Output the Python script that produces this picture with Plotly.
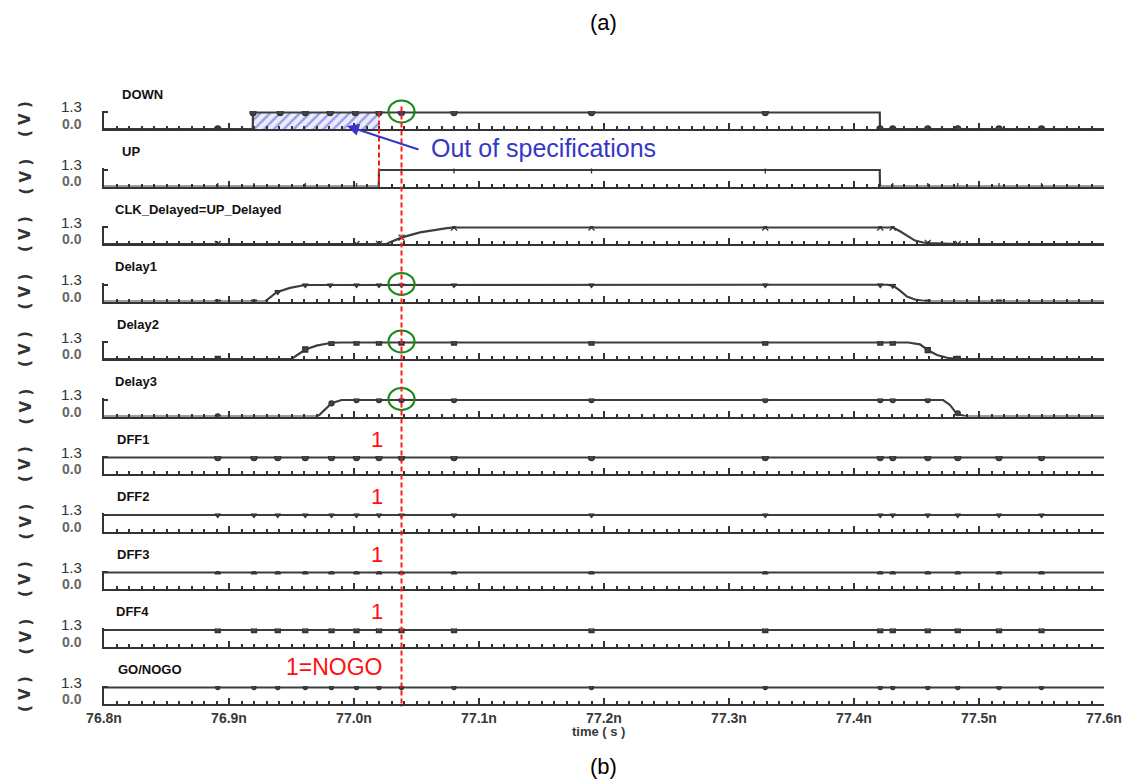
import numpy as np
import plotly.graph_objects as go

# ---------------- data (time in ns, voltage in V) ----------------
X_MIN, X_MAX = 76.8, 77.6
V_HIGH = 1.3
SIGNAL_NAMES = ["DOWN", "UP", "CLK_Delayed=UP_Delayed", "Delay1", "Delay2", "Delay3",
                "DFF1", "DFF2", "DFF3", "DFF4", "GO/NOGO"]

DOWN_RISE = 76.9192   # DOWN rising edge
UP_RISE = 77.0200     # UP rising edge
SAMPLE_T = 77.038     # sampling instant (red dashed line / green circles)

down_t = [76.80, 76.9190, 76.9192, 77.4206, 77.4208, 77.60]
down_v = [0.0, 0.0, 1.3, 1.3, 0.0, 0.0]
down_mk = [76.891, 76.9192, 76.941, 76.961, 76.981, 77.001, 77.020, 77.038, 77.080, 77.190,
           77.329, 77.4208, 77.431, 77.459, 77.483, 77.516, 77.550]

up_t = [76.80, 77.0198, 77.0200, 77.4206, 77.4208, 77.60]
up_v = [0.0, 0.0, 1.3, 1.3, 0.0, 0.0]
up_mk = [76.891, 76.920, 76.961, 77.002, 77.020, 77.038, 77.080, 77.190, 77.329,
         77.4208, 77.431, 77.459, 77.483, 77.516, 77.550]

clk_t = [76.80, 77.026, 77.0288, 77.0384, 77.0528, 77.0632, 77.0744, 77.080,
         77.4312, 77.4368, 77.4424, 77.4488, 77.4552, 77.4608, 77.4824, 77.60]
clk_v = [0.0, 0.0, 0.13, 0.52, 0.91, 1.10, 1.25, 1.3,
         1.3, 1.00, 0.69, 0.27, 0.12, 0.07, 0.0, 0.0]
clk_mk = [76.891, 77.002, 77.020, 77.038, 77.080, 77.190, 77.329, 77.421, 77.431, 77.459, 77.483]

d1_t = [76.80, 76.9288, 76.9381, 76.9488, 76.9608, 77.4208, 77.4264, 77.4312,
        77.4368, 77.4424, 77.4488, 77.4592, 77.60]
d1_v = [0.0, 0.0, 0.73, 1.07, 1.3, 1.3, 1.33, 1.25, 0.86, 0.39, 0.16, 0.0, 0.0]
d1_mk = [76.891, 76.920, 76.939, 76.961, 76.981, 77.002, 77.020, 77.038, 77.080, 77.190,
         77.329, 77.421, 77.431, 77.459, 77.516]

d2_t = [76.80, 76.950, 76.961, 76.970, 76.982, 76.990, 77.4432, 77.4528, 77.4592,
        77.4664, 77.4744, 77.4824, 77.60]
d2_v = [0.0, 0.0, 0.75, 1.05, 1.28, 1.3, 1.3, 1.15, 0.69, 0.31, 0.10, 0.0, 0.0]
d2_mk = [76.891, 76.961, 76.982, 77.002, 77.020, 77.038, 77.080, 77.190, 77.329,
         77.421, 77.431, 77.459, 77.483]

d3_t = [76.80, 76.971, 76.982, 76.990, 77.4712, 77.4768, 77.4808, 77.4848, 77.4904, 77.60]
d3_v = [0.0, 0.0, 1.04, 1.3, 1.3, 0.91, 0.39, 0.13, 0.0, 0.0]
d3_mk = [76.891, 76.982, 77.002, 77.020, 77.038, 77.080, 77.190, 77.329,
         77.421, 77.431, 77.459, 77.483]

dff_t = [76.80, 77.60]
dff_v = [1.3, 1.3]
dff_mk = [76.891, 76.920, 76.939, 76.961, 76.982, 77.002, 77.020, 77.038, 77.080, 77.190,
          77.329, 77.421, 77.431, 77.459, 77.483, 77.516, 77.550]

WAVES = [(down_t, down_v, down_mk), (up_t, up_v, up_mk), (clk_t, clk_v, clk_mk),
         (d1_t, d1_v, d1_mk), (d2_t, d2_v, d2_mk), (d3_t, d3_v, d3_mk),
         (dff_t, dff_v, dff_mk), (dff_t, dff_v, dff_mk), (dff_t, dff_v, dff_mk),
         (dff_t, dff_v, dff_mk), (dff_t, dff_v, dff_mk)]

# ---------------- styling / geometry ----------------
W, H = 1133, 784
PAGE_OFF = 8            # page body offset of the plot div
PX_X0, PX_X1 = 104, 1104
BASE0, STEP = 129, 57.5
HIGH_PX = 16.5
PX_PER_V = HIGH_PX / V_HIGH
Y_TOP = 1.42
TITLE_X = [120, 120, 113, 113, 115, 113, 115, 115, 115, 114, 116]
SYMBOLS = ["circle", "line-ns", "x-thin", "triangle-down", "square", "circle",
           "circle", "triangle-down", "triangle-up", "square", "circle"]
SIZES = [6, 5, 6, 5, 5, 5, 6, 5, 5, 5, 4]
LINE_C = "#3d3d3d"
AX_C = "#333333"
FONT = "Liberation Sans, Arial, sans-serif"


def fx(p):
    return (p - PAGE_OFF) / W


def fy(p):
    return 1 - (p - PAGE_OFF) / H


def t2px(t):
    return PX_X0 + (t - X_MIN) / (X_MAX - X_MIN) * (PX_X1 - PX_X0)


fig = go.Figure()
annotations = []
shapes = []
layout_axes = {}

for i, (name, (t, v, mk)) in enumerate(zip(SIGNAL_NAMES, WAVES)):
    n = "" if i == 0 else str(i + 1)
    base = BASE0 + STEP * i
    top = base - Y_TOP * PX_PER_V
    layout_axes["xaxis" + n] = dict(
        domain=[fx(PX_X0), fx(PX_X1)], range=[X_MIN, X_MAX], anchor="y" + n,
        automargin=False,
        showline=True, linecolor=AX_C, linewidth=2, mirror=False,
        ticks="inside", ticklen=6, tickwidth=2, tickcolor=AX_C,
        tick0=76.8, dtick=0.1, tickformat=".1f", ticksuffix="n",
        showticklabels=(i == len(SIGNAL_NAMES) - 1),
        tickfont=dict(family=FONT, size=14, color="#3a3a3a", weight="bold"),
        showgrid=False, zeroline=False,
        minor=dict(ticks="inside", ticklen=3, tickwidth=1.5, tickcolor=AX_C,
                   tick0=76.8, dtick=0.01, showgrid=False),
        matches=None if i == 0 else "x",
    )
    layout_axes["yaxis" + n] = dict(
        domain=[fy(base), fy(top)], range=[0, Y_TOP], anchor="x" + n,
        automargin=False,
        showline=True, linecolor=AX_C, linewidth=2,
        ticks="inside", tickvals=[0, V_HIGH], ticklen=4, tickwidth=2, tickcolor=AX_C,
        showticklabels=False, showgrid=False, zeroline=False,
    )

    if i == 0:
        # hatched "out of specifications" region between DOWN and UP rising edges
        fig.add_trace(go.Scatter(
            x=[DOWN_RISE, UP_RISE, UP_RISE, DOWN_RISE, DOWN_RISE],
            y=[0, 0, V_HIGH, V_HIGH, 0], mode="lines", fill="toself",
            line=dict(width=0), fillcolor="rgba(0,0,0,0)",
            fillpattern=dict(shape="/", fgcolor="#4b4bd6", bgcolor="#eceefe",
                             size=7, solidity=0.35),
            xaxis="x" + n, yaxis="y" + n, showlegend=False, hoverinfo="skip"))

    fig.add_trace(go.Scatter(x=t, y=v, mode="lines",
                             line=dict(color=LINE_C, width=2.2),
                             xaxis="x" + n, yaxis="y" + n,
                             showlegend=False, hoverinfo="skip"))
    fig.add_trace(go.Scatter(x=mk, y=np.interp(mk, t, v), mode="markers",
                             marker=dict(symbol=SYMBOLS[i], size=SIZES[i], color="#444444",
                                         line=dict(color="#333333", width=1.3)),
                             xaxis="x" + n, yaxis="y" + n,
                             showlegend=False, hoverinfo="skip"))

    # labels
    annotations.append(dict(text=name, x=fx(TITLE_X[i]), y=fy(base - 35), xref="paper", yref="paper",
                            xanchor="left", yanchor="middle", showarrow=False,
                            font=dict(family=FONT, size=13, color="#111111", weight="bold")))
    annotations.append(dict(text="( V )", x=fx(25), y=fy(base - 10), xref="paper", yref="paper",
                            textangle=-90, showarrow=False, xanchor="center", yanchor="middle",
                            font=dict(family="DejaVu Sans", size=15, color="#333333",
                                      weight="bold")))
    annotations.append(dict(text="1.3", x=fx(84), y=fy(base - HIGH_PX - 5.5), xref="paper",
                            yref="paper", xanchor="right", yanchor="middle", showarrow=False,
                            font=dict(family=FONT, size=15, color="#333333")))
    annotations.append(dict(text="0.0", x=fx(84), y=fy(base - 5), xref="paper",
                            yref="paper", xanchor="right", yanchor="middle", showarrow=False,
                            font=dict(family=FONT, size=14, color="#666666", weight="bold")))

    if name.startswith("DFF"):
        annotations.append(dict(text="1", x=fx(377), y=fy(base - 35), xref="paper", yref="paper",
                                xanchor="center", yanchor="middle", showarrow=False,
                                font=dict(family=FONT, size=22, color="#ff1010")))
    if name == "GO/NOGO":
        annotations.append(dict(text="1=NOGO", x=fx(385), y=fy(base - 37), xref="paper",
                                yref="paper", xanchor="right", yanchor="middle", showarrow=False,
                                font=dict(family=FONT, size=23, color="#ff1010")))

    if i in (0, 3, 4, 5):
        cx, cy = t2px(SAMPLE_T), base - HIGH_PX - 1
        shapes.append(dict(type="circle", xref="paper", yref="paper",
                           x0=fx(cx - 13), x1=fx(cx + 13), y0=fy(cy + 11), y1=fy(cy - 11),
                           line=dict(color="#1a8a1a", width=2.2)))

last_base = BASE0 + STEP * (len(SIGNAL_NAMES) - 1)
# red dashed markers
shapes.append(dict(type="line", xref="paper", yref="paper",
                   x0=fx(t2px(SAMPLE_T)), x1=fx(t2px(SAMPLE_T)),
                   y0=fy(BASE0 - HIGH_PX - 6), y1=fy(last_base + 3),
                   line=dict(color="#ff1a1a", width=2, dash="5px,3px")))
shapes.append(dict(type="line", xref="paper", yref="paper",
                   x0=fx(t2px(UP_RISE)), x1=fx(t2px(UP_RISE)),
                   y0=fy(BASE0 - HIGH_PX), y1=fy(BASE0 + STEP),
                   line=dict(color="#ff1a1a", width=2, dash="5px,3px")))

# out-of-spec annotation + arrow
annotations.append(dict(text="Out of specifications", x=fx(429), y=fy(148), xref="paper",
                        yref="paper", xanchor="left", yanchor="middle", showarrow=False,
                        font=dict(family=FONT, size=25, color="#3636c8")))
annotations.append(dict(text="", x=fx(347), y=fy(126), xref="paper", yref="paper",
                        showarrow=True, ax=73, ay=24, arrowcolor="#3636c8", arrowwidth=2,
                        arrowhead=2, arrowsize=1.2, standoff=0))

annotations.append(dict(text="time ( s )", x=fx(598), y=fy(731), xref="paper", yref="paper",
                        xanchor="center", yanchor="middle", showarrow=False,
                        font=dict(family=FONT, size=13, color="#3a3a3a", weight="bold")))
annotations.append(dict(text="(a)", x=fx(603), y=fy(22), xref="paper", yref="paper",
                        xanchor="center", yanchor="middle", showarrow=False,
                        font=dict(family=FONT, size=22, color="#000000")))
annotations.append(dict(text="(b)", x=fx(603), y=fy(766), xref="paper", yref="paper",
                        xanchor="center", yanchor="middle", showarrow=False,
                        font=dict(family=FONT, size=22, color="#000000")))

fig.update_layout(
    width=W, height=H, margin=dict(l=0, r=0, t=0, b=0, pad=0, autoexpand=False),
    paper_bgcolor="white", plot_bgcolor="white",
    annotations=annotations, shapes=shapes, showlegend=False,
    **layout_axes,
)

fig.write_html("out.html")
